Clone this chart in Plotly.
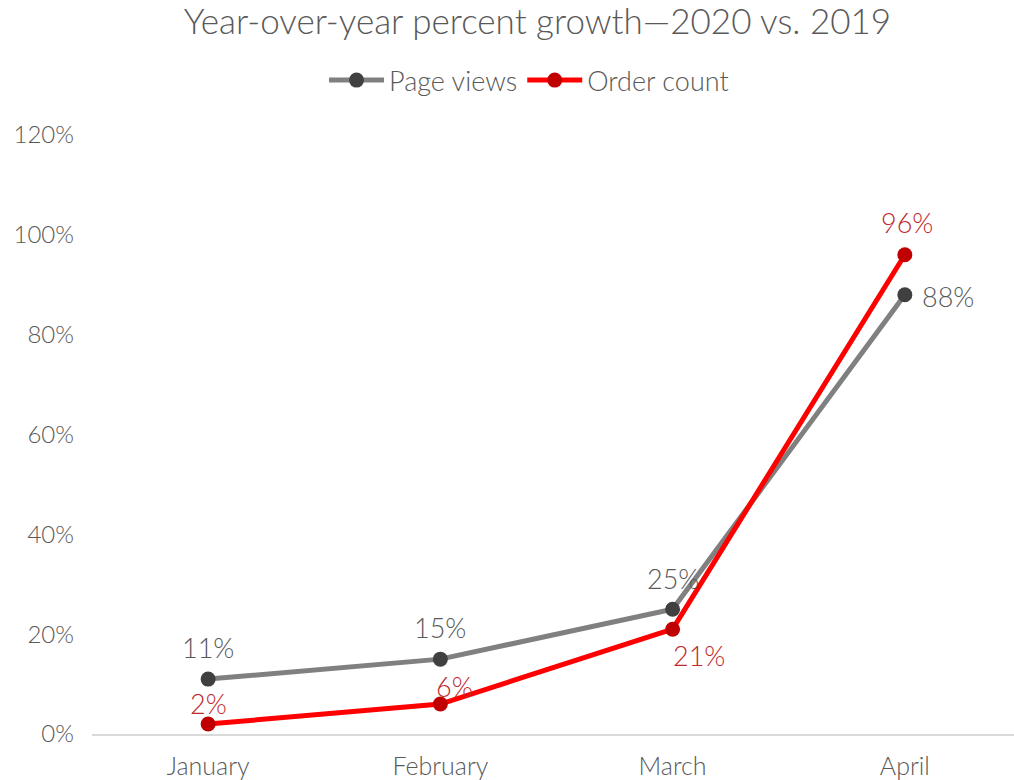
import plotly.graph_objects as go

months = ["January", "February", "March", "April"]
page_views = [11, 15, 25, 88]
order_count = [2, 6, 21, 96]
y_ticks = [0, 20, 40, 60, 80, 100, 120]
y_ticklabels = [f"{v}%" for v in y_ticks]

FONT = "Lato"
W = 300
x_idx = list(range(len(months)))

# label offsets (pixels) relative to each point
pv_shift = [(0, 32), (0, 32), (0, 31), (43, -2)]
oc_shift = [(0, 21), (14, 18), (26, -26), (2, 32)]

fig = go.Figure()
fig.add_trace(go.Scatter(
    x=x_idx, y=page_views, name="Page views", mode="lines+markers",
    line=dict(color="#808080", width=5),
    marker=dict(color="#404040", size=15),
    cliponaxis=False,
))
fig.add_trace(go.Scatter(
    x=x_idx, y=order_count, name="Order count", mode="lines+markers",
    line=dict(color="#FF0000", width=5),
    marker=dict(color="#C00000", size=15),
    cliponaxis=False,
))

for xs, vals, shifts, color in [(x_idx, page_views, pv_shift, "#595959"),
                                (x_idx, order_count, oc_shift, "#C0282D")]:
    for xv, v, (dx, dy) in zip(xs, vals, shifts):
        fig.add_annotation(x=xv, y=v, text=f"{v}%", showarrow=False,
                           xshift=dx, yshift=dy, xanchor="center", yanchor="middle",
                           font=dict(family=FONT, size=27, color=color, weight=W))

fig.update_layout(
    width=1014, height=780,
    margin=dict(l=92, r=0, t=135, b=46),
    paper_bgcolor="white", plot_bgcolor="white",
    title=dict(text="Year-over-year percent growth\u20142020 vs. 2019",
               x=0.53, xanchor="center", y=0.972, yanchor="middle",
               font=dict(family=FONT, size=35, color="#595959", weight=W)),
    legend=dict(orientation="h", x=0.474, xanchor="center", y=1.05, yanchor="bottom",
                font=dict(family=FONT, size=27, color="#595959", weight=W),
                itemwidth=55),
    showlegend=True,
    xaxis=dict(range=[-0.5, 3.47], tickvals=x_idx, ticktext=months,
               showgrid=False, zeroline=False, showline=True,
               linecolor="#d9d9d9", linewidth=1.5, ticks="",
               tickfont=dict(family=FONT, size=25, color="#595959", weight=W),
               ticklabelstandoff=9),
    yaxis=dict(range=[0, 120], tickvals=y_ticks, ticktext=y_ticklabels,
               showgrid=False, zeroline=False, showline=False, ticks="",
               tickfont=dict(family=FONT, size=24, color="#595959", weight=W),
               ticklabelstandoff=17),
)

fig.write_html("out.html")
